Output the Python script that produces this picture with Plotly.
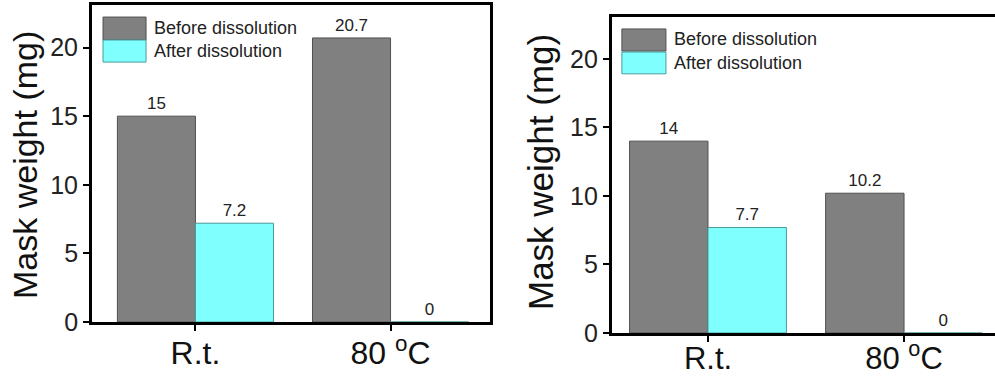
import plotly.graph_objects as go

categories = ["R.t.", "80 <sup>o</sup>C"]
series_names = ["Before dissolution", "After dissolution"]
left_before = [15, 20.7]
left_after = [7.2, 0]
right_before = [14, 10.2]
right_after = [7.7, 0]
left_labels_before = ["15", "20.7"]
left_labels_after = ["7.2", "0"]
right_labels_before = ["14", "10.2"]
right_labels_after = ["7.7", "0"]
y_ticks = [0, 5, 10, 15, 20]

GRAY = "#808080"
CYAN = "#80ffff"
FONT = "Liberation Sans, Arial, sans-serif"

fig = go.Figure()

def add_bars(vals, labels, color, line_color, xa, ya, name):
    fig.add_trace(go.Bar(
        x=categories, y=vals, name=name, text=labels,
        textposition="outside", cliponaxis=False,
        textfont=dict(size=17, color="#222", family=FONT),
        marker=dict(color=color, line=dict(color=line_color, width=1)),
        xaxis=xa, yaxis=ya, showlegend=False, width=0.4,
    ))

add_bars(left_before, left_labels_before, GRAY, "#505050", "x", "y", series_names[0])
add_bars(left_after, left_labels_after, CYAN, "#4a9a9a", "x", "y", series_names[1])
add_bars(right_before, right_labels_before, GRAY, "#505050", "x2", "y2", series_names[0])
add_bars(right_after, right_labels_after, CYAN, "#4a9a9a", "x2", "y2", series_names[1])

axis_common = dict(showgrid=False, zeroline=False, showline=True, linecolor="black",
                   linewidth=3, ticks="outside", tickcolor="black", tickwidth=2,
                   ticklen=6, automargin=False, layer="above traces")

fig.update_layout(
    width=995, height=385,
    margin=dict(l=0, r=0, t=0, b=0, pad=0, autoexpand=False),
    paper_bgcolor="white", plot_bgcolor="white",
    barmode="group", bargap=0.2, bargroupgap=0,
    font=dict(family=FONT, color="#111"),
    xaxis=dict(domain=[0.0925, 0.4925], anchor="y", type="category",
               range=[-0.53, 1.51], mirror=True, ticklabelstandoff=-5,
               tickfont=dict(size=32, color="#111"), **axis_common),
    yaxis=dict(domain=[0.1636, 0.987], anchor="x", range=[0, 23.1], mirror=True,
               tickvals=y_ticks, tickfont=dict(size=25, color="#222"), **axis_common),
    xaxis2=dict(domain=[0.615, 1.0], anchor="y2", type="category",
                range=[-0.49, 1.464], mirror=True, ticklabelstandoff=-10,
                tickfont=dict(size=31, color="#111"), **axis_common),
    yaxis2=dict(domain=[0.135, 0.956], anchor="x2", range=[0, 23.06], mirror=False,
                tickvals=y_ticks, tickfont=dict(size=25, color="#222"), **axis_common),
)

# y-axis titles
fig.add_annotation(text="Mask weight (mg)", xref="paper", yref="paper",
                   x=25/995, y=(385-165)/385, textangle=-90, showarrow=False,
                   xanchor="center", yanchor="middle",
                   font=dict(size=34, color="#111", family=FONT))
fig.add_annotation(text="Mask weight (mg)", xref="paper", yref="paper",
                   x=540/995, y=(385-172)/385, textangle=-90, showarrow=False,
                   xanchor="center", yanchor="middle",
                   font=dict(size=35, color="#111", family=FONT))

# custom legends (large swatches as in the reference)
def legend(xa, ya, sx0, sx1, g_y, c_y, tx, ty):
    xr = xa + " domain"
    yr = ya + " domain"
    fig.add_shape(type="rect", xref=xr, yref=yr, x0=sx0, x1=sx1, y0=g_y[0], y1=g_y[1],
                  fillcolor=GRAY, line=dict(color="#505050", width=1))
    fig.add_shape(type="rect", xref=xr, yref=yr, x0=sx0, x1=sx1, y0=c_y[0], y1=c_y[1],
                  fillcolor=CYAN, line=dict(color="#4a9a9a", width=1))
    for name, yy in zip(series_names, ty):
        fig.add_annotation(text=name, xref=xr, yref=yr, x=tx, y=yy, xanchor="left",
                           yanchor="middle", showarrow=False,
                           font=dict(size=18, color="#222", family=FONT))

legend("x", "y", 0.0276, 0.1357, (0.8896, 0.962), (0.820, 0.8896), 0.151, (0.927, 0.855))
legend("x2", "y2", 0.026, 0.141, (0.892, 0.962), (0.820, 0.889), 0.157, (0.930, 0.854))

fig.write_html("out.html", config={"displayModeBar": False},
               post_script="document.body.style.margin='0px';document.body.style.overflow='hidden';")
